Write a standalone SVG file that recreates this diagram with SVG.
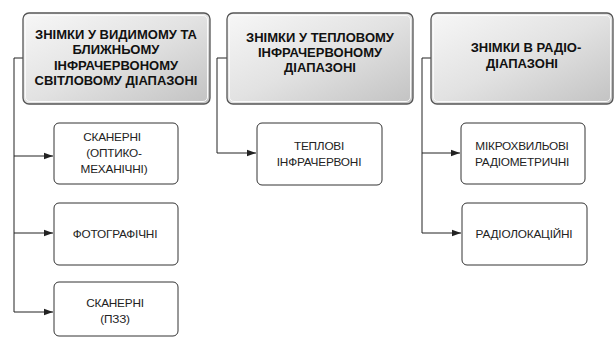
<svg xmlns="http://www.w3.org/2000/svg" width="615" height="338" viewBox="0 0 615 338">
<defs>
<linearGradient id="hg" x1="0" y1="0" x2="1" y2="1">
<stop offset="0" stop-color="#f7f7f7"/>
<stop offset="0.5" stop-color="#e2e2e2"/>
<stop offset="1" stop-color="#c2c2c2"/>
</linearGradient>
<marker id="arr" viewBox="0 0 10 10" refX="10" refY="5" markerWidth="9" markerHeight="9" markerUnits="userSpaceOnUse" orient="auto">
<path d="M0,1.5 L10,5 L0,8.5 Z" fill="#222"/>
</marker>
</defs>
<style>
.hb{fill:url(#hg);stroke:#555;stroke-width:1.3}
.hi{fill:none;stroke:#fafafa;stroke-width:1}
.cb{fill:#fff;stroke:#333;stroke-width:1}
.ht{font-family:"Liberation Sans",Arial,sans-serif;font-weight:bold;font-size:13px;fill:#111;text-anchor:middle}
.ct{font-family:"Liberation Sans",Arial,sans-serif;font-size:11.8px;letter-spacing:-0.2px;fill:#222;text-anchor:middle}
.ln{fill:none;stroke:#222;stroke-width:1}
</style>
<rect width="615" height="338" fill="#fff"/>
<g id="connectors">
<path class="ln" d="M23,58 H14 V312"/>
<path class="ln" d="M14,156 H53" marker-end="url(#arr)"/>
<path class="ln" d="M14,233 H53" marker-end="url(#arr)"/>
<path class="ln" d="M14,312 H53" marker-end="url(#arr)"/>
<path class="ln" d="M227,58 H217 V153 H256" marker-end="url(#arr)"/>
<path class="ln" d="M431,58 H422 V233"/>
<path class="ln" d="M422,153 H460" marker-end="url(#arr)"/>
<path class="ln" d="M422,233 H461" marker-end="url(#arr)"/>
</g>
<g id="h1">
<rect class="hb" x="23" y="13" width="187" height="91" rx="6"/>
<rect class="hi" x="25.5" y="15.5" width="182" height="86" rx="4.5"/>
<text class="ht" x="116" y="39">ЗНІМКИ У ВИДИМОМУ ТА</text>
<text class="ht" x="116" y="54">БЛИЖНЬОМУ</text>
<text class="ht" x="116" y="69.5">ІНФРАЧЕРВОНОМУ</text>
<text class="ht" x="116" y="85">СВІТЛОВОМУ ДІАПАЗОНІ</text>
</g>
<g id="h2">
<rect class="hb" x="227" y="13" width="186" height="91" rx="6"/>
<rect class="hi" x="229.5" y="15.5" width="181" height="86" rx="4.5"/>
<text class="ht" x="320" y="42">ЗНІМКИ У ТЕПЛОВОМУ</text>
<text class="ht" x="320" y="57">ІНФРАЧЕРВОНОМУ</text>
<text class="ht" x="320" y="72">ДІАПАЗОНІ</text>
</g>
<g id="h3">
<rect class="hb" x="431" y="13" width="182" height="91" rx="6"/>
<rect class="hi" x="433.5" y="15.5" width="177" height="86" rx="4.5"/>
<text class="ht" x="526" y="52">ЗНІМКИ В РАДІО-</text>
<text class="ht" x="522" y="68">ДІАПАЗОНІ</text>
</g>
<g id="c1">
<rect class="cb" x="54" y="123" width="124" height="61" rx="5"/>
<text class="ct" x="112" y="141">СКАНЕРНІ</text>
<text class="ct" x="114" y="157">(ОПТИКО-</text>
<text class="ct" x="114" y="173">МЕХАНІЧНІ)</text>
</g>
<g id="c2">
<rect class="cb" x="54" y="203" width="124" height="62" rx="5"/>
<text class="ct" x="115" y="238">ФОТОГРАФІЧНІ</text>
</g>
<g id="c3">
<rect class="cb" x="54" y="282" width="124" height="54" rx="5"/>
<text class="ct" x="115" y="307">СКАНЕРНІ</text>
<text class="ct" x="115" y="323">(ПЗЗ)</text>
</g>
<g id="c4">
<rect class="cb" x="257" y="123" width="125" height="62" rx="5"/>
<text class="ct" x="319" y="150">ТЕПЛОВІ</text>
<text class="ct" x="319" y="166">ІНФРАЧЕРВОНІ</text>
</g>
<g id="c5">
<rect class="cb" x="461" y="123" width="124" height="61" rx="5"/>
<text class="ct" x="522" y="150">МІКРОХВИЛЬОВІ</text>
<text class="ct" x="522" y="166">РАДІОМЕТРИЧНІ</text>
</g>
<g id="c6">
<rect class="cb" x="462" y="203" width="125" height="62" rx="5"/>
<text class="ct" x="524" y="238">РАДІОЛОКАЦІЙНІ</text>
</g>
</svg>
